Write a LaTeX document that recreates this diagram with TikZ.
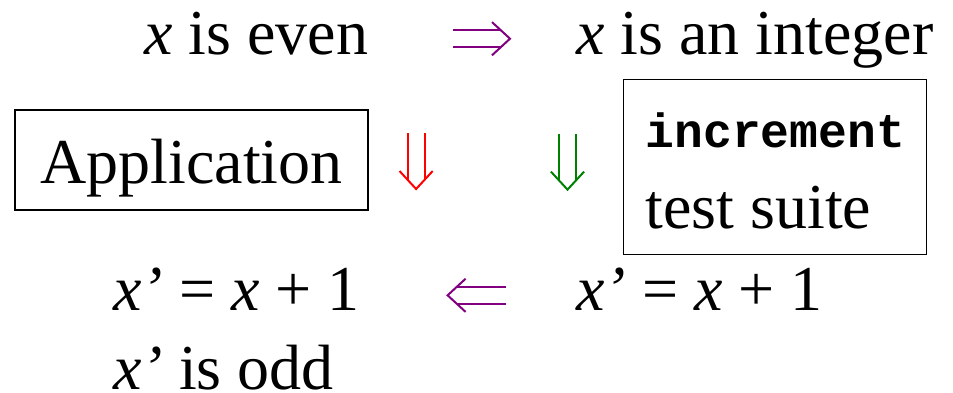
\documentclass[tikz,border=0pt]{standalone}
\usepackage{fontspec}
\setmainfont{Liberation Serif}
\setmonofont{Liberation Mono}
\usetikzlibrary{positioning,decorations.markings}
\definecolor{implpurple}{RGB}{128,0,128}
\definecolor{implgreen}{RGB}{0,128,0}

\begin{document}
\begin{tikzpicture}[font=\fontsize{32}{39.5}\selectfont,
  txt/.style={inner sep=0pt,align=left},
  box/.style={draw,line width=0.6pt,inner ysep=0pt,align=left},
  dimp/.style={draw=#1,double=white,double distance=7.5pt,line width=1pt,shorten >=4.6pt,
    postaction={decorate,decoration={markings,mark=at position 1 with
      {\draw[#1,line width=1pt,shorten >=0pt,shorten <=0pt,miter limit=20] (-9pt,8.3pt) -- (0,0) -- (-9pt,-8.3pt);}}}}]
\useasboundingbox (0,0) rectangle (476.5pt,196pt);
% top row
\node[txt,anchor=base west] (even) at (72pt,168.5pt) {\textit{x} is even};
\node[txt,anchor=base west] (integer) at (288pt,168.5pt) {\textit{x} is an integer};
% boxes
\node[box,anchor=base,minimum width=176.5pt,text height=36.5pt,text depth=13.5pt] (app) at (95.75pt,104.5pt) {Application};
\node[box,anchor=north west,inner xsep=11pt,font=\fontsize{32}{40.5}\selectfont] (incr) at (311.5pt,156.5pt)
  {\rule{0pt}{34pt}{\ttfamily\bfseries\fontsize{24}{24}\selectfont increment}\\ test suite\rule[-13pt]{0pt}{13pt}};
% bottom row
\node[txt,anchor=base west] (xr) at (288pt,41pt) {\textit{x’} = \textit{x} + 1};
\node[txt,anchor=base west] (xl) at (56.5pt,1.5pt) {\textit{x’} = \textit{x} + 1\\ \textit{x’} is odd};
% implications
\draw[dimp=implpurple] ([xshift=42.3pt,yshift=8.15pt]even.base east) -- ([xshift=-33pt,yshift=8.15pt]integer.base west);
\draw[dimp=red] ([xshift=23.75pt,yshift=13.35pt]app.east) -- ([xshift=23.75pt,yshift=-14.5pt]app.east);
\draw[dimp=implgreen] ([xshift=-27.75pt,yshift=16.6pt]incr.west) -- ([xshift=-27.75pt,yshift=-11.25pt]incr.west);
\draw[dimp=implpurple] ([xshift=-35.2pt,yshift=7.35pt]xr.base west) -- ([xshift=-64.2pt,yshift=7.35pt]xr.base west);
\end{tikzpicture}
\end{document}
